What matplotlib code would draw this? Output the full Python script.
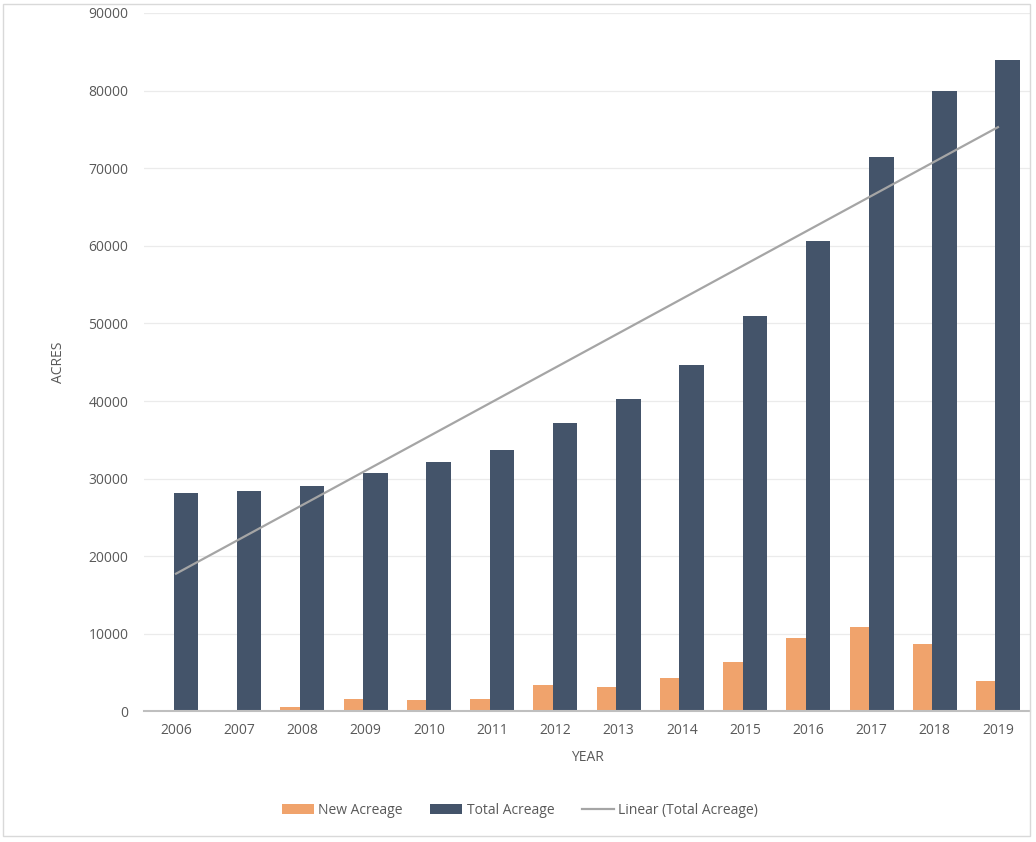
import numpy as np
import matplotlib
matplotlib.use("Agg")
import matplotlib.pyplot as plt
from matplotlib.patches import Patch, Rectangle
from matplotlib.lines import Line2D

years = ["2006", "2007", "2008", "2009", "2010", "2011", "2012", "2013",
         "2014", "2015", "2016", "2017", "2018", "2019"]
new_acreage = [0, 220, 580, 1610, 1480, 1610, 3420, 3160, 4320, 6380, 9460, 10860, 8680, 3920]
total_acreage = [28160, 28410, 29060, 30740, 32160, 33700, 37180, 40270, 44650,
                 51000, 60600, 71400, 80000, 84000]
yticks = [0, 10000, 20000, 30000, 40000, 50000, 60000, 70000, 80000, 90000]

plt.rcParams['font.family'] = ['Open Sans', 'DejaVu Sans']
txt = '#595959'

fig = plt.figure(figsize=(10.36, 8.42), dpi=100)
ax = fig.add_axes([0.1394, 0.155, 0.8544, 0.8296])

x = np.arange(len(years))
w = 0.388
off = 0.154
ax.bar(x - off, new_acreage, width=w, color='#F0A36C', zorder=2)
ax.bar(x + off, total_acreage, width=w, color='#44546A', zorder=3)

coef = np.polyfit(x, total_acreage, 1)
trend = np.polyval(coef, x)
ax.plot(x, trend, color='#A5A5A5', lw=1.6, zorder=4)

ax.set_xlim(-0.5, len(years) - 0.5)
ax.set_ylim(0, 90000)
ax.set_yticks(yticks)
ax.set_yticklabels([str(v) for v in yticks])
ax.set_xticks(x)
ax.set_xticklabels(years)
ax.yaxis.grid(True, color='#EBEBEB', lw=0.9, zorder=0)
ax.set_axisbelow(True)
for s in ['left', 'right', 'top']:
    ax.spines[s].set_visible(False)
ax.spines['bottom'].set_color('#BFBFBF')
ax.spines['bottom'].set_linewidth(1.5)
ax.spines['bottom'].set_zorder(5)
ax.tick_params(axis='y', length=0, pad=11.5, labelsize=10, labelcolor=txt)
ax.tick_params(axis='x', length=0, pad=8, labelsize=10, labelcolor=txt)
ax.set_xlabel('YEAR', fontsize=10, color=txt, labelpad=9)
ax.set_ylabel('ACRES', fontsize=10, color=txt, labelpad=16)

handles = [Patch(facecolor='#F0A36C'), Patch(facecolor='#44546A'),
           Line2D([0], [0], color='#A5A5A5', lw=1.6)]
labels = ['New Acreage', 'Total Acreage', 'Linear (Total Acreage)']
fig.legend(handles, labels, loc='center', bbox_to_anchor=(520 / 1036, 1 - 810 / 842),
           ncol=3, frameon=False, fontsize=10, labelcolor=txt, handlelength=2.3,
           handleheight=0.7, handletextpad=0.3, columnspacing=2.0)

fig.patches.append(Rectangle((3 / 1036, 1 - 836 / 842), 1027 / 1036, 832 / 842,
                             transform=fig.transFigure, fill=False,
                             edgecolor='#D9D9D9', lw=1.0))

fig.savefig('out.png', dpi=100)
